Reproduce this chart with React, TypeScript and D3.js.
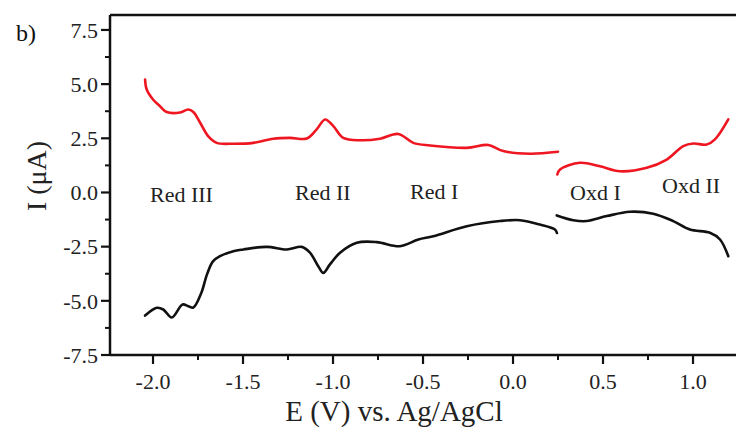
import * as d3 from "d3";

// red trace (upper), two segments split at 0.25 V
const redLeftV = [-2.044, -2.035, -2.0, -1.961, -1.924, -1.85, -1.804, -1.776, -1.739, -1.694, -1.646, -1.554, -1.443, -1.332, -1.239, -1.146, -1.091, -1.044, -0.998, -0.943, -0.85, -0.739, -0.637, -0.554, -0.461, -0.257, -0.137, -0.054, 0.094, 0.25];
const redLeftI = [5.21, 4.75, 4.29, 3.98, 3.71, 3.69, 3.83, 3.71, 3.23, 2.6, 2.29, 2.25, 2.29, 2.48, 2.52, 2.49, 2.91, 3.37, 3.06, 2.52, 2.41, 2.48, 2.7, 2.29, 2.17, 2.06, 2.19, 1.91, 1.79, 1.88];
const redRightV = [0.246, 0.261, 0.372, 0.483, 0.594, 0.743, 0.854, 0.946, 1.002, 1.076, 1.122, 1.196];
const redRightI = [0.83, 1.06, 1.37, 1.21, 0.98, 1.14, 1.52, 2.14, 2.26, 2.21, 2.45, 3.37];

// black trace (lower)
const blackLeftV = [-2.044, -1.979, -1.943, -1.896, -1.836, -1.804, -1.776, -1.733, -1.7, -1.667, -1.628, -1.554, -1.498, -1.368, -1.257, -1.174, -1.128, -1.082, -1.054, -1.017, -0.961, -0.868, -0.757, -0.628, -0.526, -0.443, -0.257, -0.072, 0.039, 0.15, 0.233, 0.244];
const blackLeftI = [-5.68, -5.32, -5.4, -5.77, -5.17, -5.25, -5.31, -4.66, -3.78, -3.18, -2.94, -2.71, -2.63, -2.51, -2.63, -2.51, -2.78, -3.4, -3.71, -3.32, -2.78, -2.32, -2.29, -2.48, -2.17, -2.02, -1.56, -1.32, -1.28, -1.48, -1.71, -1.87];
const blackRightV = [0.243, 0.335, 0.409, 0.521, 0.65, 0.779, 0.89, 0.983, 1.094, 1.15, 1.196];
const blackRightI = [-1.06, -1.28, -1.32, -1.09, -0.89, -0.98, -1.32, -1.71, -1.86, -2.17, -2.94];

const xTicks = [-2.0, -1.5, -1.0, -0.5, 0.0, 0.5, 1.0];
const yTicks = [7.5, 5.0, 2.5, 0.0, -2.5, -5.0, -7.5];

const peakLabels = ["Red III", "Red II", "Red I", "Oxd I", "Oxd II"];
const peakLabelV = [-2.017, -1.211, -0.572, 0.317, 0.828];
const peakLabelI = [-0.42, -0.37, -0.32, -0.34, -0.02];

const W = 736;
const H = 441;
const margin = { left: 110, top: 15, bottom: 86 };
const font = "'Liberation Serif', 'Times New Roman', serif";

export default function App() {
  const x = d3.scaleLinear().domain([-2.239, 1.25]).range([margin.left, margin.left + 3.489 * 180]);
  const y = d3.scaleLinear().domain([-7.5, 8.19]).range([H - margin.bottom, margin.top]);

  const line = d3
    .line<[number, number]>()
    .x((d) => x(d[0]))
    .y((d) => y(d[1]))
    .curve(d3.curveCatmullRom.alpha(0.5));

  const zip = (a: number[], b: number[]) => a.map((v, i) => [v, b[i]] as [number, number]);

  const x0 = x.range()[0];
  const x1 = x.range()[1];
  const yb = y(-7.5);
  const yt = y(8.19);

  const xMinor = d3.range(-2.25, 1.26, 0.25).filter((v) => x(v) >= x0 && Math.abs(v * 2 - Math.round(v * 2)) > 0.01);
  const yMinor = d3.range(-6.25, 8, 2.5);

  return (
    <svg
      width={W}
      height={H}
      style={{ position: "absolute", left: 0, top: 0, background: "#fff" }}
      fontFamily={font}
    >
      <text x={16} y={41} fontSize={24} fill="#111">b)</text>

      {/* frame */}
      <line x1={x0} x2={x1} y1={yt} y2={yt} stroke="#111" strokeWidth={2.5} />
      <line x1={x0} x2={x0} y1={yt} y2={yb} stroke="#111" strokeWidth={2.5} />
      <line x1={x0} x2={x1} y1={yb} y2={yb} stroke="#111" strokeWidth={2.5} />

      {/* y ticks */}
      {yTicks.map((t) => (
        <g key={"y" + t}>
          <line x1={x0 - 9} x2={x0} y1={y(t)} y2={y(t)} stroke="#111" strokeWidth={2.2} />
          <text x={x0 - 12} y={y(t)} dy="0.35em" textAnchor="end" fontSize={22} fill="#222">
            {t.toFixed(1)}
          </text>
        </g>
      ))}
      {yMinor.map((t) => (
        <line key={"ym" + t} x1={x0 - 5} x2={x0} y1={y(t)} y2={y(t)} stroke="#111" strokeWidth={2} />
      ))}

      {/* x ticks */}
      {xTicks.map((t) => (
        <g key={"x" + t}>
          <line x1={x(t)} x2={x(t)} y1={yb} y2={yb + 9} stroke="#111" strokeWidth={2.2} />
          <text x={x(t)} y={yb + 34} textAnchor="middle" fontSize={22} fill="#222">
            {t.toFixed(1)}
          </text>
        </g>
      ))}
      {xMinor.map((t) => (
        <line key={"xm" + t} x1={x(t)} x2={x(t)} y1={yb} y2={yb + 5} stroke="#111" strokeWidth={2} />
      ))}

      {/* axis titles */}
      <text x={394} y={421} textAnchor="middle" fontSize={29} fill="#222">
        E (V) vs. Ag/AgCl
      </text>
      <text
        transform={`translate(46,176) rotate(-90)`}
        textAnchor="middle"
        fontSize={28}
        fill="#222"
      >
        I (μA)
      </text>

      {/* traces */}
      <g fill="none" strokeWidth={2.6} strokeLinejoin="round" strokeLinecap="round">
        <path d={line(zip(redLeftV, redLeftI)) || ""} stroke="#ee1620" />
        <path d={line(zip(redRightV, redRightI)) || ""} stroke="#ee1620" />
        <path d={line(zip(blackLeftV, blackLeftI)) || ""} stroke="#111" />
        <path d={line(zip(blackRightV, blackRightI)) || ""} stroke="#111" />
      </g>

      {/* peak labels */}
      {peakLabels.map((s, i) => (
        <text key={s} x={x(peakLabelV[i])} y={y(peakLabelI[i])} fontSize={22} fill="#222">
          {s}
        </text>
      ))}
    </svg>
  );
}
